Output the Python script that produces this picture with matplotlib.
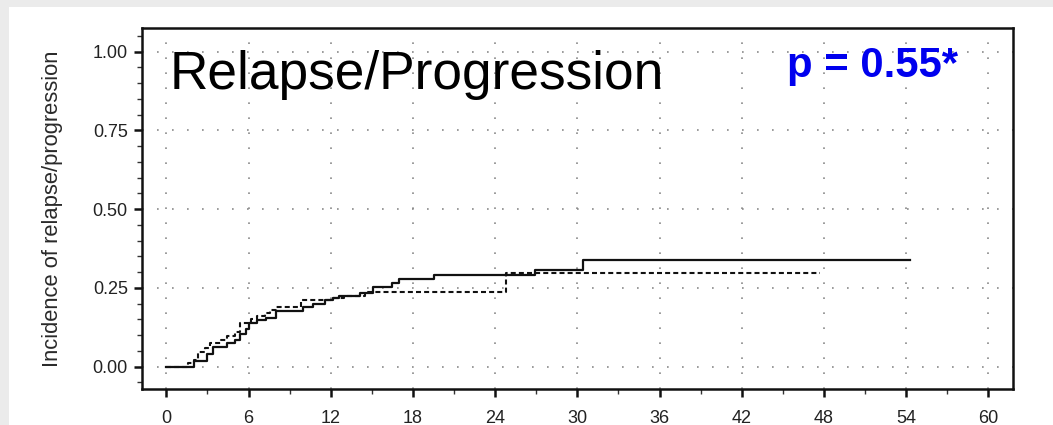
import matplotlib
matplotlib.use("Agg")
import matplotlib.pyplot as plt
from matplotlib.patches import Rectangle
from matplotlib.ticker import MultipleLocator, FormatStrFormatter

# ---- data ----
solid_t = [0, 2.0, 3.0, 3.4, 4.4, 5.0, 5.4, 5.8, 6.0, 6.6, 7.3, 8.0, 10.0, 10.7,
           11.6, 12.2, 12.6, 14.1, 15.1, 16.5, 17.0, 19.5, 26.9, 30.4, 54.3]
solid_v = [0, 0.018, 0.040, 0.063, 0.075, 0.085, 0.105, 0.118, 0.138, 0.148, 0.155,
           0.178, 0.190, 0.200, 0.210, 0.218, 0.225, 0.233, 0.252, 0.265, 0.277,
           0.290, 0.308, 0.339, 0.339]
dashed_t = [0, 1.6, 2.0, 2.3, 2.8, 3.2, 4.0, 4.4, 5.0, 5.4, 6.2, 6.6, 7.2, 7.6, 8.0,
            9.8, 12.0, 13.0, 14.5, 24.8, 47.7]
dashed_v = [0, 0.012, 0.020, 0.045, 0.060, 0.075, 0.085, 0.098, 0.110, 0.140, 0.150,
            0.160, 0.170, 0.180, 0.190, 0.210, 0.218, 0.225, 0.238, 0.296, 0.296]
x_ticks = [0, 6, 12, 18, 24, 30, 36, 42, 48, 54, 60]
y_ticks = [0.00, 0.25, 0.50, 0.75, 1.00]
title_text = "Relapse/Progression"
p_text = "p = 0.55*"
y_label = "Incidence of relapse/progression"

W, H = 1053, 425
plt.rcParams['font.family'] = ['Liberation Sans', 'DejaVu Sans']
fig = plt.figure(figsize=(W / 100, H / 100), dpi=100, facecolor='#ebebeb')
bg = Rectangle((9 / W, 0), 1, (H - 7) / H, transform=fig.transFigure,
               facecolor='white', edgecolor='none', zorder=-10)
fig.patches.append(bg)

L, R, T, B = 141.7, 1013, 28, 389
ax = fig.add_axes([L / W, 1 - B / H, (R - L) / W, (B - T) / H])
ax.set_zorder(1)
ax.set_facecolor('white')
ax.set_xlim(-1.8, 61.8)
ax.set_ylim(-0.071, 1.075)

ax.step(solid_t, solid_v, where='post', color='#111111', lw=1.6, zorder=3)
ax.step(dashed_t, dashed_v, where='post', color='#111111', lw=1.5,
        linestyle=(0, (2.4, 1.5)), zorder=3)

ax.set_xticks(x_ticks)
ax.set_yticks(y_ticks)
ax.yaxis.set_major_formatter(FormatStrFormatter('%.2f'))
ax.xaxis.set_minor_locator(MultipleLocator(3))
ax.yaxis.set_minor_locator(MultipleLocator(0.05))
ax.grid(True, which='major', color='#8a8a8a', linestyle=(0, (1, 8)), lw=1.2)

for s in ax.spines.values():
    s.set_linewidth(1.8)
    s.set_color('#111111')
ax.tick_params(which='major', direction='out', length=6, width=1.8,
               labelsize=13, labelcolor='#222222', color='#111111', pad=4)
ax.tick_params(axis='x', which='major', pad=9)
ax.tick_params(which='minor', direction='out', length=3.5, width=1.0, color='#333333')

fig.text(53 / W, 1 - 209 / H, y_label, rotation=90, ha='center', va='center',
         fontsize=15.8, color='#2a2a2a', zorder=2)

fig.text(170 / W, 1 - 89 / H, title_text, ha='left', va='baseline',
         fontsize=38.3, color='black', zorder=5)
fig.text(787 / W, 1 - 77 / H, p_text, ha='left', va='baseline',
         fontsize=30.2, color='#0000ee', fontweight='bold', zorder=5)

fig.savefig('out.png', dpi=100, facecolor=fig.get_facecolor())
